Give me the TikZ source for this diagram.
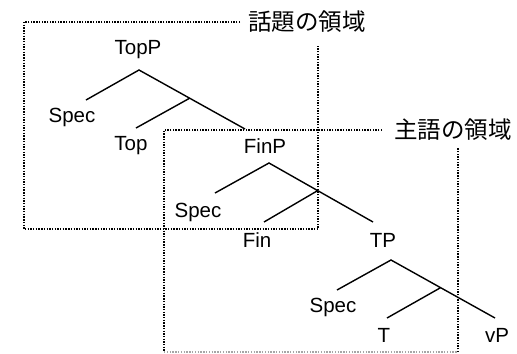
\documentclass[tikz,border=0pt]{standalone}
\usepackage{fontspec}
\setmainfont{Liberation Sans}
\newfontfamily\jp{Noto Sans CJK JP}
\begin{document}
\begin{tikzpicture}[x=1bp,y=-1bp,
  lbl/.style={inner sep=0pt,font=\fontsize{20.5bp}{24bp}\selectfont},
  jlbl/.style={inner sep=0pt,font=\jp\fontsize{23.5bp}{27bp}\selectfont},
  branch/.style={line width=1.4bp,black},
  dom/.style={line width=1.7bp,dash pattern=on 1.4bp off 1.3bp,black},
  domlight/.style={line width=1.3bp,dash pattern=on 1.4bp off 1.4bp,black!35}]
\useasboundingbox (0,0) rectangle (517,353);
% labels
\node[lbl] (TopP) at (138,50) {TopP};
\node[lbl] (Spec1) at (72,117) {Spec};
\node[lbl] (Top) at (131,146) {Top};
\node[lbl] (FinP) at (265,146) {FinP};
\node[lbl] (Spec2) at (198,212) {Spec};
\node[lbl] (Fin) at (257,240) {Fin};
\node[lbl] (TP) at (383,240) {TP};
\node[lbl] (Spec3) at (333,307) {Spec};
\node[lbl] (T) at (384,335) {T};
\node[lbl] (vP) at (497,335) {vP};
\node[jlbl] (dom1) at (307,22) {話題の領域};
\node[jlbl] (dom2) at (453,130) {主語の領域};
% branch points
\coordinate (a1) at (139,70); \coordinate (s1) at (86,100);
\coordinate (m1) at (190,98); \coordinate (h1) at (136,128);
\coordinate (c1) at (245,129);
\coordinate (a2) at (269,163); \coordinate (s2) at (215,193);
\coordinate (m2) at (317,191); \coordinate (h2) at (264,222);
\coordinate (c2) at (373,222);
\coordinate (a3) at (391,260); \coordinate (s3) at (337,290);
\coordinate (m3) at (440,288); \coordinate (h3) at (387,318);
\coordinate (c3) at (495,318);
\draw[branch] (s1) -- (a1) -- (c1) (m1) -- (h1);
\draw[branch] (s2) -- (a2) -- (c2) (m2) -- (h2);
\draw[branch] (s3) -- (a3) -- (c3) (m3) -- (h3);
% domain boxes
\coordinate (b1tl) at (24,22); \coordinate (b1te) at (240,22);
\coordinate (b1bl) at (24,229); \coordinate (b1br) at (318,229);
\coordinate (b1rt) at (318,45);
\draw[dom] (b1te) -- (b1tl) -- (b1bl) -- (b1br) -- (b1rt);
\coordinate (b2tl) at (164,130); \coordinate (b2te) at (382,130);
\coordinate (b2bl) at (164,352); \coordinate (b2br) at (458,352);
\coordinate (b2rt) at (458,148);
\draw[dom] (b2te) -- (b2tl) -- (b2bl);
\draw[domlight] (b2bl) -- (b2br);
\draw[dom] (b2br) -- (b2rt);
\end{tikzpicture}
\end{document}
